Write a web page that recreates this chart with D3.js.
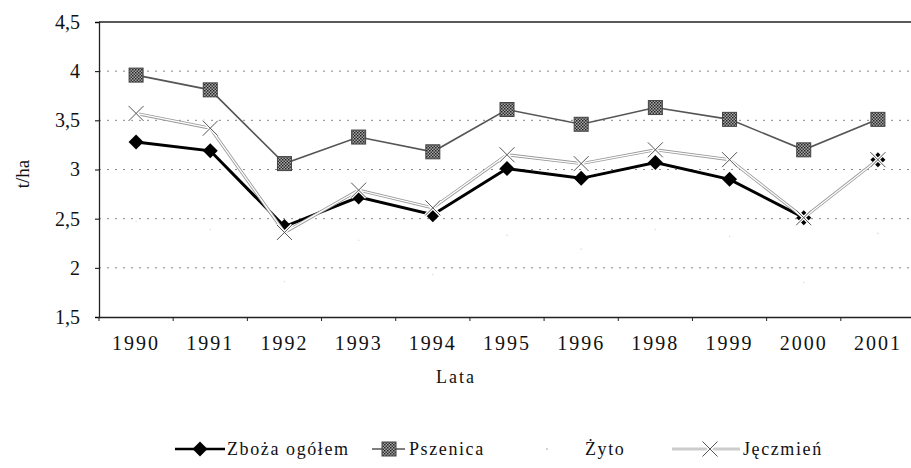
<!DOCTYPE html>
<html><head><meta charset="utf-8">
<script src="https://cdn.jsdelivr.net/npm/d3@7/dist/d3.min.js"></script>
<style>
body{margin:0;background:#fff;}
svg{display:block;}
</style></head>
<body><svg id="c" width="911" height="468"></svg>
<script>
const years = ["1990","1991","1992","1993","1994","1995","1996","1998","1999","2000","2001"];
const zboza    = [3.28,3.19,2.42,2.72,2.54,3.01,2.91,3.07,2.90,2.51,3.10];
const pszenica = [3.96,3.81,3.06,3.33,3.18,3.61,3.46,3.63,3.51,3.20,3.51];
const zyto     = [2.47,2.39,1.86,2.28,1.93,2.33,2.19,2.39,2.32,1.85,2.35];
const jeczmien = [3.57,3.42,2.36,2.79,2.61,3.15,3.06,3.20,3.10,2.51,3.10];
const yTicks = [1.5,2,2.5,3,3.5,4,4.5];
const seriesNames = ["Zboża ogółem","Pszenica","Żyto","Jęczmień"];
const xTitle = "Lata", yTitle = "t/ha";

const svg = d3.select("#c");
const FONT = "Liberation Serif";
const L = 99, R = 915, T = 22, B = 317;
const x = d3.scaleBand().domain(years).range([L, R]).padding(0);
const y = d3.scaleLinear().domain([1.5, 4.5]).range([B, T]);
const cx = d => x(d) + x.bandwidth()/2;
const fmt = d => String(d).replace(".", ",");

const defs = svg.append("defs");
const pat = defs.append("pattern").attr("id","chk").attr("width",3).attr("height",3).attr("patternUnits","userSpaceOnUse");
pat.append("rect").attr("width",3).attr("height",3).attr("fill","#a8a8a8");
pat.append("rect").attr("width",1.5).attr("height",1.5).attr("fill","#222");
pat.append("rect").attr("x",1.5).attr("y",1.5).attr("width",1.5).attr("height",1.5).attr("fill","#333");

svg.append("g").selectAll("line").data(yTicks.filter(t => t>1.5 && t<4.5)).join("line")
  .attr("x1", L).attr("x2", 911).attr("y1", d=>y(d)).attr("y2", d=>y(d))
  .attr("stroke","#888").attr("stroke-width",1).attr("stroke-dasharray","2,6");
svg.append("line").attr("x1",L).attr("x2",911).attr("y1",y(4.5)).attr("y2",y(4.5)).attr("stroke","#222").attr("stroke-width",1.3);

const yAxis = svg.append("g").attr("transform",`translate(${L},0)`)
  .call(d3.axisLeft(y).tickValues(yTicks).tickFormat(fmt).tickSize(4).tickPadding(15));
yAxis.attr("font-family", FONT);
yAxis.select(".domain").attr("stroke","#222").attr("stroke-width",1.3);
yAxis.selectAll("text").attr("font-size",20).attr("font-family",FONT).attr("fill","#111");

const xAxis = svg.append("g").attr("transform",`translate(0,${B})`)
  .call(d3.axisBottom(x).tickSize(0).tickPadding(19));
xAxis.attr("font-family", FONT);
xAxis.select(".domain").attr("stroke","#222").attr("stroke-width",1.3);
xAxis.selectAll("text").attr("font-size",20).attr("font-family",FONT).attr("fill","#111").attr("letter-spacing","2px");
svg.append("g").selectAll("line").data(years).join("line")
  .attr("x1",d=>x(d)).attr("x2",d=>x(d)).attr("y1",B).attr("y2",B+4).attr("stroke","#222");

svg.append("text").attr("x",456).attr("y",383).attr("text-anchor","middle").attr("font-size",18).attr("letter-spacing","2px").attr("font-family",FONT).attr("fill","#111").text(xTitle);
svg.append("text").attr("transform","translate(29,174) rotate(-90)").attr("text-anchor","middle").attr("font-size",19).attr("font-family",FONT).attr("fill","#111").text(yTitle);

const line = d3.line().x(d=>cx(d.k)).y(d=>y(d.v));
const pts = arr => years.map((k,i)=>({k, v:arr[i], i}));

function diamond(g, px, py){ g.append("path").attr("d",`M${px},${py-7.5}L${px+7.5},${py}L${px},${py+7.5}L${px-7.5},${py}Z`).attr("fill","#000"); }
function square(g, px, py){ g.append("rect").attr("x",px-7).attr("y",py-7).attr("width",14).attr("height",14).attr("fill","url(#chk)").attr("stroke","#444").attr("stroke-width",1); }
function cross(g, px, py){
  const s=7.5, d=`M${px-s},${py-s}L${px+s},${py+s}M${px-s},${py+s}L${px+s},${py-s}`;
  g.append("path").attr("d",d).attr("stroke","#fff").attr("stroke-width",3.2).attr("fill","none");
  g.append("path").attr("d",d).attr("stroke","#555").attr("stroke-width",1).attr("fill","none");
}

// Zboża ogółem (line not drawn into the last point, as in the reference)
svg.append("path").datum(pts(zboza)).attr("d", d3.line().x(d=>cx(d.k)).y(d=>y(d.v)).defined(d=>d.i < years.length-1))
  .attr("fill","none").attr("stroke","#000").attr("stroke-width",3);
const gz = svg.append("g"); pts(zboza).forEach(d=>diamond(gz, cx(d.k), y(d.v)));

// Pszenica
svg.append("path").datum(pts(pszenica)).attr("d", line).attr("fill","none").attr("stroke","#555").attr("stroke-width",1.6);
const gp = svg.append("g"); pts(pszenica).forEach(d=>square(gp, cx(d.k), y(d.v)));

// Żyto (almost invisible in the reference)
svg.append("g").selectAll("circle").data(pts(zyto)).join("circle").attr("cx",d=>cx(d.k)).attr("cy",d=>y(d.v)).attr("r",0.8).attr("fill","#ddd");

// Jęczmień
svg.append("path").datum(pts(jeczmien)).attr("d", line).attr("fill","none").attr("stroke","#999").attr("stroke-width",3);
svg.append("path").datum(pts(jeczmien)).attr("d", line).attr("fill","none").attr("stroke","#fff").attr("stroke-width",1.3);
const gj = svg.append("g"); pts(jeczmien).forEach(d=>cross(gj, cx(d.k), y(d.v)));

// legend
const lg = svg.append("g").attr("font-family", FONT);
const ly = 449;
const lt = (xp, s) => lg.append("text").attr("x",xp).attr("y",ly+6).attr("font-size",18).attr("font-family",FONT).attr("fill","#111").attr("letter-spacing","1.6px").text(s);
lg.append("line").attr("x1",175).attr("x2",225).attr("y1",ly).attr("y2",ly).attr("stroke","#000").attr("stroke-width",2.5);
diamond(lg,200,ly);
lt(227, seriesNames[0]);
lg.append("line").attr("x1",372).attr("x2",405).attr("y1",ly).attr("y2",ly).attr("stroke","#555").attr("stroke-width",1.6);
square(lg,389,ly);
lt(409, seriesNames[1]);
lg.append("circle").attr("cx",547).attr("cy",ly).attr("r",0.8).attr("fill","#999");
lt(585, seriesNames[2]);
lg.append("line").attr("x1",672).attr("x2",740).attr("y1",ly).attr("y2",ly).attr("stroke","#999").attr("stroke-width",2.5);
lg.append("line").attr("x1",672).attr("x2",740).attr("y1",ly).attr("y2",ly).attr("stroke","#fff").attr("stroke-width",1);
cross(lg,710,ly);
lt(743, seriesNames[3]);
</script></body></html>
